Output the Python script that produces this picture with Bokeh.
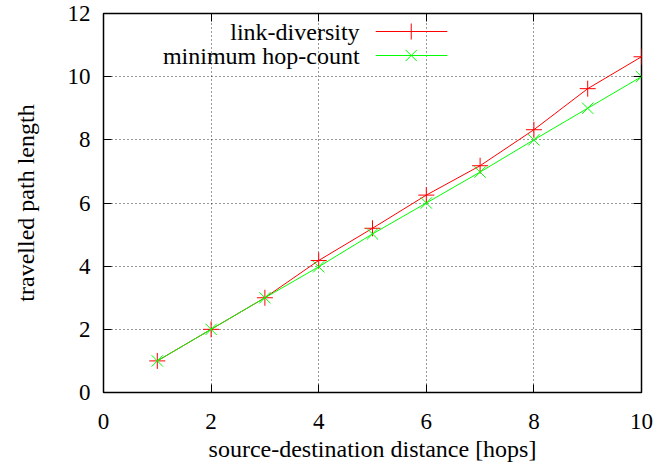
from bokeh.plotting import figure
from bokeh.models import LinearAxis, FixedTicker, Range1d
from bokeh.core.properties import value
from bokeh.embed import file_html
from bokeh.resources import INLINE

hops = [1, 2, 3, 4, 5, 6, 7, 8, 9, 10]
link_diversity = [1.0, 2.0, 3.0, 4.18, 5.2, 6.25, 7.18, 8.32, 9.62, 10.63]
min_hop_count = [1.0, 2.0, 3.0, 3.98, 5.02, 6.0, 6.98, 8.0, 9.0, 10.0]
x_ticks = [0, 2, 4, 6, 8, 10]
y_ticks = [0, 2, 4, 6, 8, 10, 12]
labels = ["link-diversity", "minimum hop-count"]

FONT = "Liberation Serif"
RED = "#ff0000"
GREEN = "#00ff00"

p = figure(width=670, height=464, output_backend="svg", toolbar_location=None,
           x_range=Range1d(0, 10), y_range=Range1d(0, 12),
           min_border_left=103, min_border_right=29, min_border_top=13, min_border_bottom=71)

p.background_fill_color = "white"
p.outline_line_color = "black"
p.outline_line_width = 1.5

for ax, ticks in ((p.xaxis[0], x_ticks), (p.yaxis[0], y_ticks)):
    ax.ticker = FixedTicker(ticks=ticks)
    ax.major_tick_in = 8
    ax.major_tick_out = 0
    ax.minor_tick_line_color = None
    ax.axis_line_color = "black"
    ax.major_tick_line_color = "black"
    ax.major_label_text_font = FONT
    ax.major_label_text_font_size = "23px"
    ax.major_label_text_color = "black"
    ax.axis_label_text_font = FONT
    ax.axis_label_text_font_size = "24px"
    ax.axis_label_text_font_style = "normal"
    ax.axis_label_text_color = "black"

p.xaxis[0].axis_label = "source-destination distance [hops]"
p.xaxis[0].major_label_standoff = 21
p.xaxis[0].axis_label_standoff = 4
p.yaxis[0].axis_label = "travelled path length"
p.yaxis[0].major_label_standoff = 13
p.yaxis[0].axis_label_standoff = 26

for side, ticks in (("above", x_ticks), ("right", y_ticks)):
    ax = LinearAxis(ticker=FixedTicker(ticks=ticks))
    ax.major_tick_in = 8
    ax.major_tick_out = 0
    ax.minor_tick_line_color = None
    ax.axis_line_color = None
    ax.major_label_text_font_size = "0px"
    ax.major_label_standoff = 0
    ax.major_tick_line_color = "black"
    p.add_layout(ax, side)

for g in (p.xgrid[0], p.ygrid[0]):
    g.grid_line_color = "black"
    g.grid_line_dash = "1 3"
    g.grid_line_alpha = 0.8
    g.grid_line_width = 1
p.xgrid[0].ticker = FixedTicker(ticks=x_ticks)
p.ygrid[0].ticker = FixedTicker(ticks=y_ticks)

p.line(hops, link_diversity, line_color=RED, line_width=1)
p.scatter(hops, link_diversity, marker="cross", size=16, line_color=RED, line_width=1)
p.line(hops, min_hop_count, line_color=GREEN, line_width=1)
p.scatter(hops, min_hop_count, marker="x", size=16, line_color=GREEN, line_width=1)

# legend (text first, then sample)
leg_y = [11.43, 10.67]
p.text(x=[4.76, 4.76], y=leg_y, text=labels, text_align="right", text_baseline="middle",
       text_font=value(FONT), text_font_size="24px", text_color="black")
p.line([5.06, 6.39], [leg_y[0], leg_y[0]], line_color=RED, line_width=1)
p.scatter([5.72], [leg_y[0]], marker="cross", size=16, line_color=RED, line_width=1)
p.line([5.06, 6.39], [leg_y[1], leg_y[1]], line_color=GREEN, line_width=1)
p.scatter([5.72], [leg_y[1]], marker="x", size=16, line_color=GREEN, line_width=1)

open("out.html", "w").write(file_html(p, INLINE))
